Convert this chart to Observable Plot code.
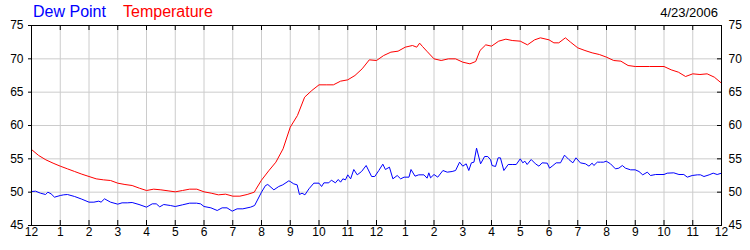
<!DOCTYPE html>
<html><head><meta charset="utf-8">
<script src="https://cdn.jsdelivr.net/npm/d3@7"></script>
<script src="https://cdn.jsdelivr.net/npm/@observablehq/plot@0.6"></script>
<style>
body{margin:0;background:#fff;font-family:"Liberation Sans",Arial,sans-serif;}
#wrap{position:relative;width:750px;height:250px;overflow:hidden;}
.lg{position:absolute;white-space:nowrap;line-height:1;}
</style></head><body>
<div id="wrap"><div id="chart"></div></div>
<script>
// ---- data ----
const seriesNames = ["Dew Point", "Temperature"];
const seriesColors = ["#0000ff", "#ff0000"];
const dateLabel = "4/23/2006";
const hourTicks = [0,1,2,3,4,5,6,7,8,9,10,11,12,13,14,15,16,17,18,19,20,21,22,23,24];
const hourLabels = ["12","1","2","3","4","5","6","7","8","9","10","11","12","1","2","3","4","5","6","7","8","9","10","11","12"];
const yTicks = [45,50,55,60,65,70,75];

const tempHours = [0,0.25,0.5,0.75,1,1.25,1.5,1.75,2,2.25,2.5,2.75,3,3.25,3.5,3.75,4,4.25,4.5,4.75,5,5.25,5.5,5.75,6,6.25,6.5,6.75,7,7.25,7.5,7.75,7.8,8,8.25,8.5,8.75,9,9.25,9.5,9.75,10,10.25,10.5,10.75,11,11.25,11.5,11.75,12,12.25,12.5,12.75,13,13.25,13.4,13.5,13.6,13.75,14,14.25,14.5,14.75,15,15.25,15.45,15.6,15.8,16,16.25,16.5,16.72,17,17.25,17.5,17.7,18,18.17,18.34,18.57,18.75,19,19.25,19.5,19.75,20,20.25,20.5,20.75,21,21.5,22,22.25,22.5,22.75,23,23.25,23.5,23.75,24];
const tempVals = [56.4,55.5,54.85,54.35,53.9,53.5,53.1,52.7,52.35,52.0,51.85,51.75,51.35,51.15,51.0,50.6,50.25,50.45,50.35,50.2,50.05,50.25,50.45,50.45,50.05,49.85,49.6,49.7,49.4,49.4,49.65,50.0,50.4,51.8,53.2,54.5,56.5,59.75,61.5,64.25,65.25,66.1,66.1,66.1,66.65,66.85,67.5,68.5,69.85,69.75,70.5,71.0,71.15,71.75,72.0,71.75,72.35,71.85,71.15,70.0,69.75,70.0,70.0,69.5,69.25,69.6,71.25,72.1,71.9,72.65,72.95,72.75,72.65,72.1,72.85,73.15,72.85,72.4,72.4,73.15,72.5,71.65,71.25,70.9,70.65,70.25,69.75,69.65,69.0,68.85,68.85,68.85,68.35,68.0,67.35,67.75,67.65,67.75,67.25,66.35];

const dewHours = [0,0.14,0.31,0.49,0.57,0.68,0.8,1.0,1.12,1.25,1.5,1.75,2.0,2.17,2.34,2.42,2.54,2.75,3.0,3.15,3.33,3.5,3.74,4.0,4.2,4.34,4.46,4.6,4.83,5.0,5.25,5.5,5.74,5.88,6.0,6.24,6.46,6.63,6.8,6.98,7.15,7.35,7.62,7.76,8.0,8.14,8.22,8.43,8.6,8.74,8.95,9.0,9.12,9.24,9.32,9.41,9.51,9.65,9.82,10.0,10.09,10.17,10.34,10.43,10.57,10.67,10.75,10.83,10.92,11.0,11.1,11.21,11.33,11.48,11.64,11.83,11.94,12.08,12.22,12.31,12.45,12.57,12.72,12.84,12.96,13.13,13.2,13.34,13.47,13.65,13.76,13.82,13.88,14.0,14.13,14.31,14.46,14.63,14.75,14.89,15.0,15.12,15.21,15.3,15.39,15.48,15.62,15.76,15.87,15.97,16.02,16.14,16.23,16.31,16.43,16.58,16.72,16.86,17.0,17.09,17.16,17.24,17.38,17.53,17.65,17.76,17.94,18.02,18.11,18.25,18.4,18.54,18.69,18.83,18.94,19.09,19.27,19.39,19.5,19.56,19.68,19.79,19.9,19.99,20.14,20.31,20.43,20.55,20.66,20.84,21.0,21.13,21.26,21.42,21.53,21.71,22.0,22.11,22.34,22.52,22.69,22.81,22.98,23.16,23.27,23.39,23.57,23.71,23.85,24.0];
const dewVals = [50.1,50.15,49.85,49.65,50.0,49.75,49.25,49.5,49.6,49.65,49.35,48.95,48.5,48.5,48.65,48.5,49.0,48.5,48.2,48.4,48.4,48.45,48.15,47.75,48.25,48.25,47.8,48.15,48.0,47.85,48.1,48.35,48.35,48.25,47.85,47.65,47.25,47.65,47.65,47.15,47.5,47.5,47.75,48.0,50.0,51.0,51.15,50.35,50.85,51.1,51.7,51.6,51.25,51.1,49.65,49.85,49.6,50.5,51.35,51.35,50.85,51.4,51.4,51.8,51.4,51.9,51.5,52.0,51.85,52.6,52.0,53.4,52.6,53.1,54.0,52.35,52.35,53.25,54.2,53.4,53.75,52.0,52.5,52.0,52.25,52.25,53.4,52.4,52.6,52.6,52.1,52.9,52.15,52.65,52.25,53.25,53.0,53.1,53.25,54.5,53.9,54.25,53.25,54.4,54.5,56.6,54.25,55.35,55.35,54.85,54.0,53.85,55.15,55.15,53.25,54.15,54.15,54.15,55.0,54.4,54.65,54.15,54.9,54.25,53.9,54.4,54.35,53.6,53.9,54.4,54.4,55.55,54.9,54.4,55.15,54.4,54.25,53.9,54.35,54.0,54.5,54.5,54.5,54.65,54.25,53.5,53.6,54.0,53.6,53.35,53.35,53.1,52.6,53.0,52.5,52.65,52.65,52.85,52.9,52.65,52.65,52.25,52.5,52.6,52.6,52.35,52.6,52.85,52.65,52.85];

// ---- build ----
const temp = tempHours.map((h, i) => ({h, v: tempVals[i]}));
const dew = dewHours.map((h, i) => ({h, v: dewVals[i]}));

const W = 750, H = 250, mL = 31, mR = 29, mT = 25, mB = 25;
const fw = W - mL - mR, fh = H - mT - mB;

const chart = Plot.plot({
  width: W, height: H,
  marginLeft: mL, marginRight: mR, marginTop: mT, marginBottom: mB,
  style: {fontFamily: "'Liberation Sans', Arial, sans-serif", fontSize: "12px", color: "#000", background: "#fff", overflow: "visible"},
  x: {domain: [0, 24], label: null},
  y: {domain: [45, 75], label: null},
  marks: [
    Plot.gridX(hourTicks, {stroke: "#cccccc", strokeOpacity: 1}),
    Plot.gridY(yTicks, {stroke: "#cccccc", strokeOpacity: 1}),
    Plot.line(dew, {x: "h", y: "v", stroke: seriesColors[0], strokeWidth: 1}),
    Plot.line(temp, {x: "h", y: "v", stroke: seriesColors[1], strokeWidth: 1}),
    Plot.frame({stroke: "#000"}),
    Plot.tickX(hourTicks, {x: d => d, insetBottom: fh - 5, stroke: "#000"}),
    Plot.tickX(hourTicks, {x: d => d, insetTop: fh - 5, stroke: "#000"}),
    Plot.tickY(yTicks, {y: d => d, insetLeft: fw - 4, stroke: "#000"}),
    Plot.axisX(hourTicks, {anchor: "bottom", tickSize: 0, tickPadding: 2, tickFormat: d => hourLabels[hourTicks.indexOf(d)], label: null}),
    Plot.axisY(yTicks, {anchor: "left", tickSize: 3, tickPadding: 5, label: null}),
    Plot.axisY(yTicks, {anchor: "right", tickSize: 0, tickPadding: 7, label: null})
  ]
});
const wrap = document.getElementById("wrap");
document.getElementById("chart").appendChild(chart);

// legend + date (HTML over the top margin)
const lgPos = [33, 123];
seriesNames.forEach((n, i) => {
  const s = document.createElement("span");
  s.className = "lg";
  s.textContent = n;
  s.style.cssText = `left:${lgPos[i]}px;top:4px;font-size:16px;color:${seriesColors[i]}`;
  wrap.appendChild(s);
});
const dt = document.createElement("span");
dt.className = "lg";
dt.textContent = dateLabel;
dt.style.cssText = "right:32px;top:6px;font-size:13px;color:#000";
wrap.appendChild(dt);
</script>
</body></html>
